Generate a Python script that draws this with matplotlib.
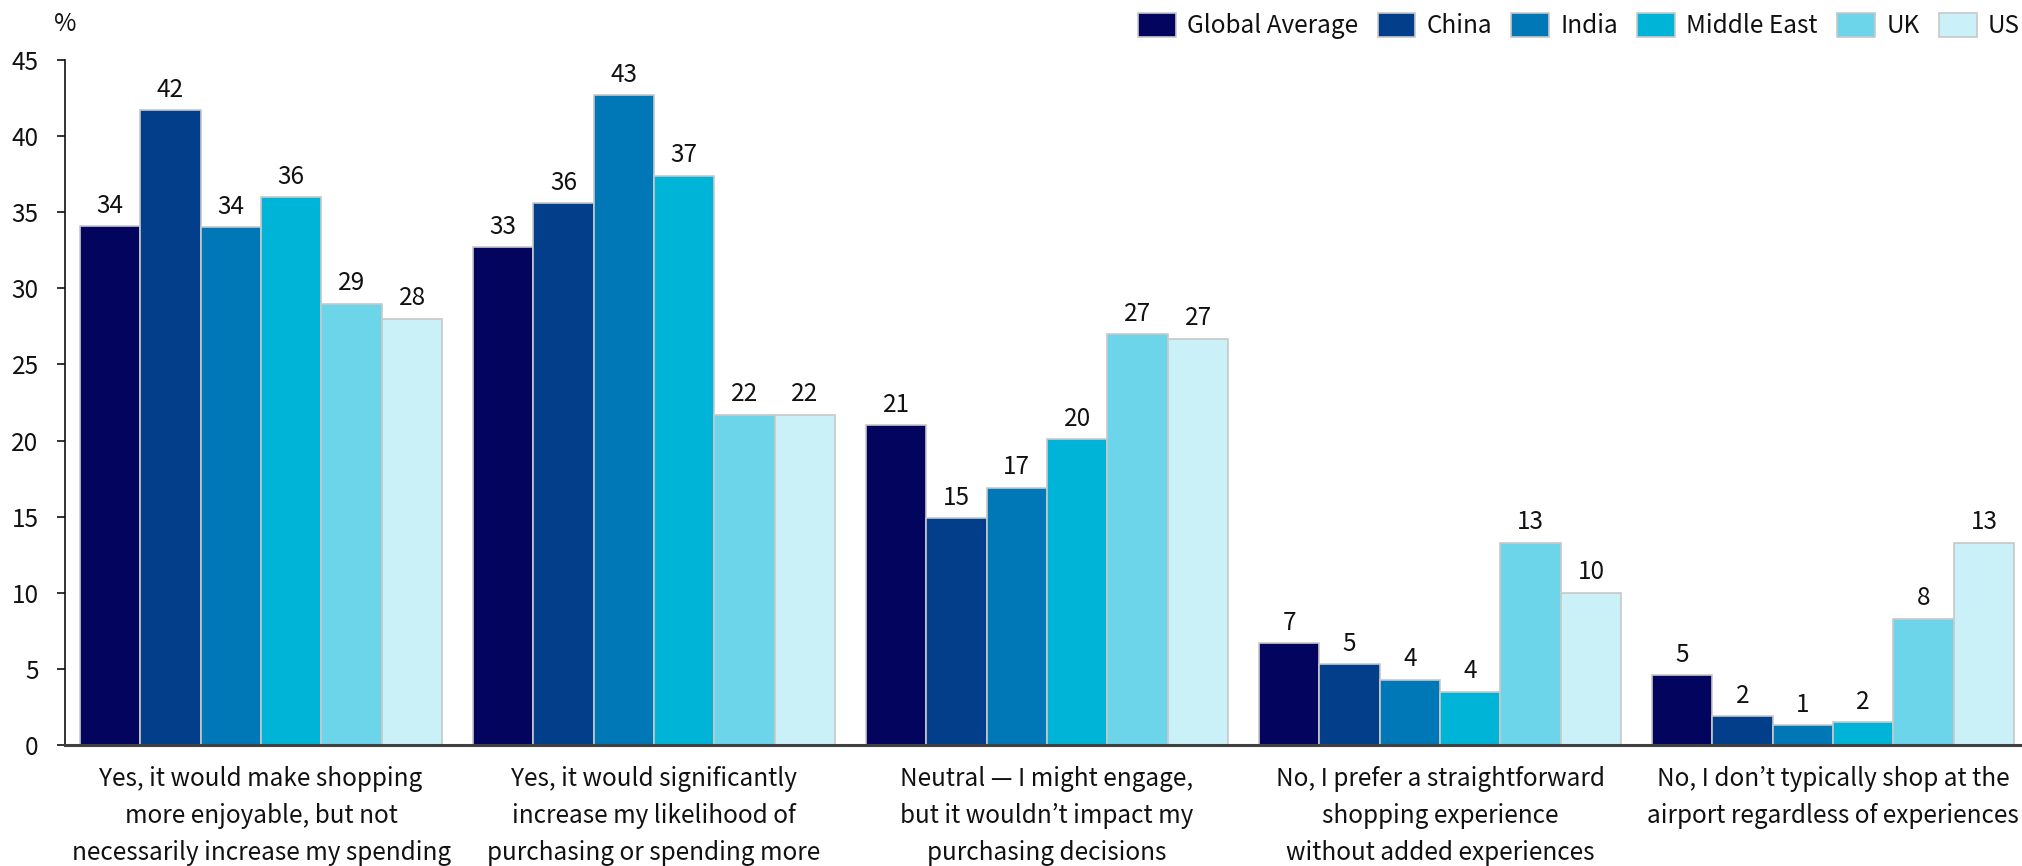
import matplotlib
matplotlib.use("Agg")
import matplotlib.pyplot as plt
import numpy as np

plt.rcParams['font.family'] = ['Noto Sans CJK KR', 'DejaVu Sans']

categories = [
    "Yes, it would make shopping\nmore enjoyable, but not\nnecessarily increase my spending",
    "Yes, it would significantly\nincrease my likelihood of\npurchasing or spending more",
    "Neutral \u2014 I might engage,\nbut it wouldn\u2019t impact my\npurchasing decisions",
    "No, I prefer a straightforward\nshopping experience\nwithout added experiences",
    "No, I don\u2019t typically shop at the\nairport regardless of experiences",
]
series_names = ["Global Average", "China", "India", "Middle East", "UK", "US"]

global_average = [34.1, 32.7, 21.0, 6.7, 4.6]
china = [41.7, 35.6, 14.9, 5.3, 1.9]
india = [34.0, 42.7, 16.9, 4.3, 1.3]
middle_east = [36.0, 37.4, 20.1, 3.5, 1.52]
uk = [29.0, 21.7, 27.0, 13.3, 8.3]
us = [28.0, 21.7, 26.7, 10.0, 13.3]

yticks = [0, 5, 10, 15, 20, 25, 30, 35, 40, 45]

colors = ["#03045e", "#023e8a", "#0077b6", "#00b4d8", "#6cd5ea", "#caf0f8"]
edge = "#c8c8c8"

series = [global_average, china, india, middle_east, uk, us]

FS = 17.5
W, H = 2022, 866
fig = plt.figure(figsize=(W / 100, H / 100), dpi=100)
ax = fig.add_axes([65 / W, (H - 745) / H, (W - 65) / W, 685 / H])

x = np.arange(len(categories))
bw = 0.1537
for i, (name, vals, c) in enumerate(zip(series_names, series, colors)):
    bars = ax.bar(x + (i - 2.5) * bw, vals, width=bw, color=c, edgecolor=edge,
                  linewidth=1.2, label=name, zorder=2)
    for b, v in zip(bars, vals):
        ax.annotate(f"{v:.0f}", (b.get_x() + b.get_width() / 2, v),
                    xytext=(0, 5.3), textcoords="offset points",
                    ha="center", va="bottom", fontsize=FS, color="#111111")

ax.set_xlim(-0.499, 4.481)
ax.set_ylim(0, 45)
ax.set_yticks(yticks)
ax.set_yticklabels([str(t) for t in yticks])
ax.tick_params(axis="y", length=6, width=1.2, pad=13, labelsize=FS,
               colors="#111111", direction="out")
ax.set_xticks(x)
ax.set_xticklabels(categories, fontsize=FS, linespacing=1.55, color="#111111")
ax.tick_params(axis="x", length=0, pad=15)

for s in ["top", "right"]:
    ax.spines[s].set_visible(False)
ax.spines["left"].set_color("#111111")
ax.spines["left"].set_linewidth(1.2)
ax.spines["bottom"].set_color("#404040")
ax.spines["bottom"].set_linewidth(2.2)
ax.spines["bottom"].set_zorder(3)

fig.text(65 / W, 1 - 24 / H, "%", ha="center", va="center", fontsize=FS,
         color="#111111")

leg = fig.legend(loc="center right", bbox_to_anchor=(1.0, 1 - 26 / H),
                 ncol=6, frameon=False, fontsize=FS, handlelength=1.56,
                 handleheight=1.19, handletextpad=0.45, columnspacing=0.8,
                 borderaxespad=0, borderpad=0.1)
for t in leg.get_texts():
    t.set_color("#111111")

fig.savefig("out.png", dpi=100)
